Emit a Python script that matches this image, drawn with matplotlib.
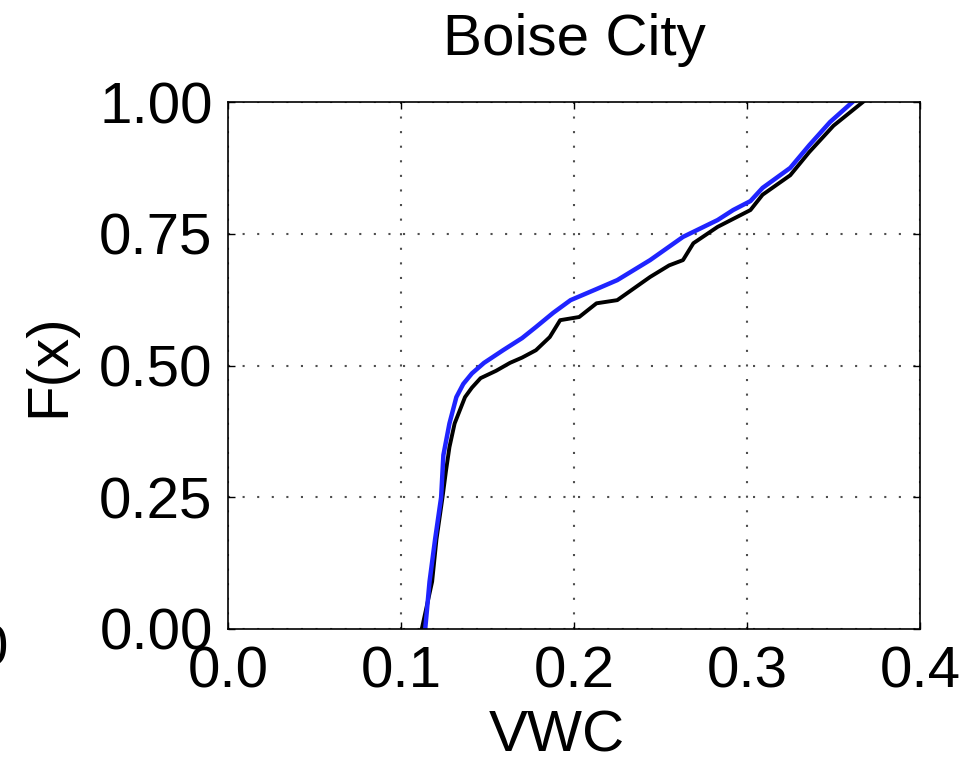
import matplotlib
matplotlib.use('Agg')
import matplotlib.pyplot as plt

plt.rcParams['font.family'] = ['Liberation Sans', 'DejaVu Sans']

# empirical CDFs of volumetric water content
vwc_black = [0.112, 0.118, 0.1205, 0.124, 0.126, 0.128, 0.131, 0.137, 0.141, 0.146,
             0.155, 0.163, 0.170, 0.178, 0.186, 0.192, 0.203, 0.213, 0.225, 0.244,
             0.255, 0.263, 0.269, 0.283, 0.302, 0.309, 0.325, 0.336, 0.350, 0.367]
cdf_black = [0.000, 0.090, 0.170, 0.250, 0.300, 0.345, 0.390, 0.440, 0.458, 0.476,
             0.490, 0.505, 0.515, 0.529, 0.554, 0.586, 0.592, 0.618, 0.624, 0.668,
             0.690, 0.700, 0.732, 0.763, 0.795, 0.824, 0.861, 0.905, 0.955, 1.000]

vwc_blue = [0.114, 0.1165, 0.1197, 0.1232, 0.1245, 0.128, 0.132, 0.136, 0.141, 0.148,
            0.159, 0.170, 0.178, 0.188, 0.198, 0.213, 0.225, 0.244, 0.263, 0.283,
            0.292, 0.302, 0.309, 0.325, 0.336, 0.348, 0.361]
cdf_blue = [0.000, 0.090, 0.170, 0.250, 0.330, 0.390, 0.440, 0.465, 0.485, 0.505,
            0.529, 0.552, 0.573, 0.600, 0.624, 0.645, 0.662, 0.700, 0.744, 0.776,
            0.795, 0.812, 0.837, 0.875, 0.918, 0.962, 1.000]

x_ticks = [0.0, 0.1, 0.2, 0.3, 0.4]
x_labels = ['0.0', '0.1', '0.2', '0.3', '0.4']
y_ticks = [0.0, 0.25, 0.5, 0.75, 1.0]
y_labels = ['0.00', '0.25', '0.50', '0.75', '1.00']

fs = 42
fig = plt.figure(figsize=(9.65, 7.62), dpi=100)
ax = fig.add_axes([228 / 965, 1 - 629 / 762, 692 / 965, 527 / 762])

ax.plot(vwc_black, cdf_black, color='black', lw=2.8)
ax.plot(vwc_blue, cdf_blue, color='#1f24ff', lw=3.2)

ax.set_xlim(0, 0.4)
ax.set_ylim(0, 1)
ax.set_xticks(x_ticks)
ax.set_xticklabels(x_labels)
ax.set_yticks(y_ticks)
ax.set_yticklabels(y_labels)
ax.tick_params(direction='in', length=5, width=1, labelsize=fs,
               top=True, right=True)
ax.tick_params(axis='x', pad=12)
ax.tick_params(axis='y', pad=11)

ax.grid(True, color='0.3', linestyle=(0, (1, 6)), lw=1.5)
for s in ax.spines.values():
    s.set_linewidth(1.2)

ax.set_title('Boise City', fontsize=fs, pad=34)
ax.set_xlabel('VWC', fontsize=fs)
ax.xaxis.set_label_coords(0.475, -0.153)
ax.set_ylabel('F(x)', fontsize=fs, va='center')
ax.yaxis.set_label_coords(-0.258, 0.5)

# edge of the neighbouring panel's label
fig.text(-0.008, 1 - 651 / 762, '0', fontsize=fs, ha='center', va='center')

fig.savefig('out.png', dpi=100)
